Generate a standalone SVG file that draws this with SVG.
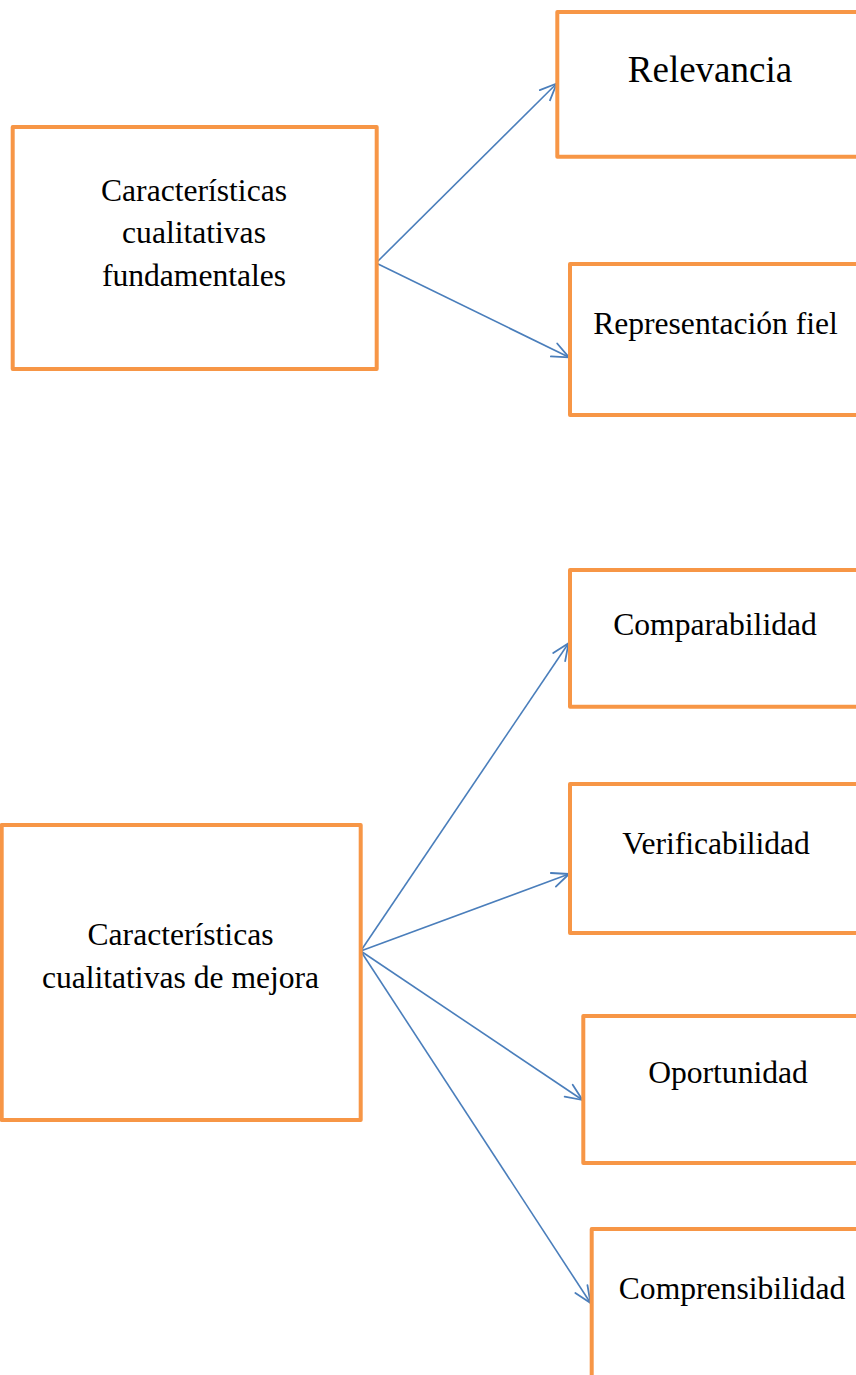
<svg xmlns="http://www.w3.org/2000/svg" width="856" height="1375" viewBox="0 0 856 1375">
<style>
.box{fill:#ffffff;stroke:#F79646;stroke-width:4;stroke-linejoin:round}
.lbl{font-family:"Liberation Serif","Times New Roman",serif;font-size:31.6px;fill:#000000;text-anchor:middle}
.big{font-size:37px}
.conn{stroke:#4A7EBB;stroke-width:1.6;fill:none;marker-end:url(#arr)}
</style>
<defs>
<marker id="arr" markerUnits="userSpaceOnUse" markerWidth="20" markerHeight="20" viewBox="-16 -8 18 16" refX="0" refY="0" orient="auto">
<path d="M-15,-6.5 L0,0 L-15,6.5" fill="none" stroke="#4A7EBB" stroke-width="1.6" stroke-linecap="round" stroke-linejoin="round"/>
</marker>
</defs>
<rect width="856" height="1375" fill="#ffffff"/>
<g id="connectors">
<line class="conn" x1="376" y1="263" x2="556.7" y2="83.5"/>
<line class="conn" x1="376" y1="263" x2="569" y2="357.3"/>
<line class="conn" x1="360.7" y1="951" x2="568.5" y2="643.3"/>
<line class="conn" x1="360.7" y1="951" x2="569" y2="874"/>
<line class="conn" x1="360.7" y1="951" x2="582.5" y2="1100"/>
<line class="conn" x1="360.7" y1="951" x2="590.5" y2="1303"/>
</g>
<g id="node-fundamentales">
<rect class="box" x="12.7" y="127" width="364" height="242"/>
<text class="lbl" x="194" y="200.7">Características</text>
<text class="lbl" x="194" y="243.4">cualitativas</text>
<text class="lbl" x="194" y="286">fundamentales</text>
</g>
<g id="node-relevancia">
<rect class="box" x="557.3" y="12" width="310" height="144.7"/>
<text class="lbl big" x="710" y="81.7">Relevancia</text>
</g>
<g id="node-representacion">
<rect class="box" x="570" y="264" width="300" height="151"/>
<text class="lbl" x="715.5" y="334">Representación fiel</text>
</g>
<g id="node-mejora">
<rect class="box" x="1.7" y="825" width="359" height="295"/>
<text class="lbl" x="180.5" y="945">Características</text>
<text class="lbl" x="180.5" y="988">cualitativas de mejora</text>
</g>
<g id="node-comparabilidad">
<rect class="box" x="570" y="570" width="300" height="136.7"/>
<text class="lbl" x="715" y="635">Comparabilidad</text>
</g>
<g id="node-verificabilidad">
<rect class="box" x="570" y="784" width="300" height="149"/>
<text class="lbl" x="716" y="854">Verificabilidad</text>
</g>
<g id="node-oportunidad">
<rect class="box" x="583.3" y="1016" width="290" height="147"/>
<text class="lbl" x="728" y="1083">Oportunidad</text>
</g>
<g id="node-comprensibilidad">
<rect class="box" x="591.7" y="1229" width="290" height="200"/>
<text class="lbl" x="732" y="1299">Comprensibilidad</text>
</g>
</svg>
